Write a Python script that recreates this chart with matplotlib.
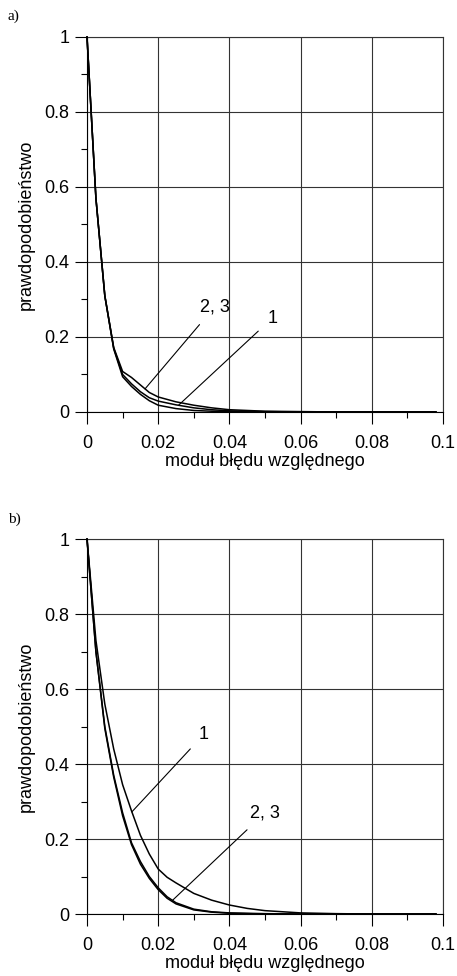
import numpy as np
import matplotlib
matplotlib.use("Agg")
import matplotlib.pyplot as plt
from matplotlib.ticker import MultipleLocator

plt.rcParams['font.family'] = ['Liberation Sans', 'DejaVu Sans']

# panel a) - three probability curves
xa = [0, 0.0025, 0.005, 0.0075, 0.01, 0.0125, 0.015, 0.0175, 0.02, 0.025,
      0.03, 0.035, 0.04, 0.05, 0.06, 0.07, 0.08, 0.09, 0.098]
a_curve1 = [1, 0.57, 0.31, 0.17, 0.100, 0.075, 0.054, 0.038, 0.029, 0.019,
            0.011, 0.006, 0.003, 0.001, 0, 0, 0, 0, 0]
a_curve2 = [1, 0.57, 0.31, 0.172, 0.108, 0.092, 0.072, 0.052, 0.040, 0.027,
            0.018, 0.011, 0.006, 0.002, 0.001, 0, 0, 0, 0]
a_curve3 = [1, 0.57, 0.31, 0.168, 0.094, 0.068, 0.047, 0.030, 0.018, 0.009,
            0.004, 0.002, 0.001, 0, 0, 0, 0, 0, 0]

# panel b)
xb = [0, 0.0025, 0.005, 0.0075, 0.01, 0.0125, 0.015, 0.0175, 0.02, 0.0225,
      0.025, 0.03, 0.035, 0.04, 0.045, 0.05, 0.06, 0.07, 0.08, 0.09, 0.098]
b_curve1 = [1, 0.73, 0.56, 0.44, 0.345, 0.275, 0.21, 0.16, 0.12, 0.098,
            0.083, 0.055, 0.037, 0.024, 0.015, 0.009, 0.003, 0.001, 0, 0, 0]
b_curve2 = [1, 0.70, 0.50, 0.37, 0.27, 0.19, 0.14, 0.10, 0.07, 0.046,
            0.030, 0.013, 0.006, 0.003, 0.002, 0.001, 0, 0, 0, 0, 0]
b_curve3 = [1, 0.70, 0.495, 0.365, 0.262, 0.185, 0.133, 0.095, 0.065, 0.042,
            0.027, 0.011, 0.005, 0.002, 0.001, 0, 0, 0, 0, 0, 0]

xticks = [0, 0.02, 0.04, 0.06, 0.08, 0.1]
xticklabels = ['0', '0.02', '0.04', '0.06', '0.08', '0.1']
yticks = [0, 0.2, 0.4, 0.6, 0.8, 1]
yticklabels = ['0', '0.2', '0.4', '0.6', '0.8', '1']

FS = 13


def setup_axes(ax):
    ax.set_xlim(0, 0.1)
    ax.set_ylim(0, 1)
    ax.set_xticks(xticks)
    ax.set_xticklabels(xticklabels)
    ax.set_yticks(yticks)
    ax.set_yticklabels(yticklabels)
    ax.xaxis.set_minor_locator(MultipleLocator(0.01))
    ax.yaxis.set_minor_locator(MultipleLocator(0.1))
    ax.tick_params(which='major', direction='out', length=8.6, width=0.8,
                   labelsize=FS, color='black')
    ax.tick_params(axis='x', which='major', pad=8)
    ax.tick_params(axis='y', which='major', pad=4)
    ax.tick_params(which='minor', direction='out', length=4.3, width=0.8)
    ax.grid(True, which='major', color='0.2', lw=0.8)
    for s in ax.spines.values():
        s.set_color('0.2')
        s.set_linewidth(0.8)
    ax.spines['left'].set_color('black')
    ax.spines['bottom'].set_color('black')
    ax.set_xlabel('moduł błędu względnego', fontsize=FS, labelpad=1)
    ax.set_ylabel('prawdopodobieństwo', fontsize=FS, labelpad=7)


def leader(ax, text, xs, ys, x_tip, x_txt, y_txt):
    y_tip = np.interp(x_tip, xs, ys)
    ax.annotate(text, xy=(x_tip, y_tip), xytext=(x_txt, y_txt),
                fontsize=FS, ha='center', va='center',
                arrowprops=dict(arrowstyle='-', lw=0.8, color='black',
                                shrinkA=6, shrinkB=0))


fig = plt.figure(figsize=(4.57, 9.76), dpi=100)
ax1 = fig.add_axes([0.1904, 0.5779, 0.779, 0.3842])
ax2 = fig.add_axes([0.1904, 0.0635, 0.779, 0.3842])

for ax, xs, curves in [(ax1, xa, [a_curve1, a_curve2, a_curve3]),
                       (ax2, xb, [b_curve1, b_curve2, b_curve3])]:
    setup_axes(ax)
    for c in curves:
        ax.plot(xs, c, color='black', lw=1.1, zorder=3, clip_on=False)

leader(ax1, '2, 3', xa, a_curve2, 0.0163, 0.0358, 0.28)
leader(ax1, '1', xa, a_curve1, 0.0257, 0.052, 0.25)
leader(ax2, '1', xb, b_curve1, 0.0126, 0.0328, 0.479)
leader(ax2, '2, 3', xb, b_curve2, 0.024, 0.050, 0.27)

fig.text(8 / 457, 1 - 16 / 976, 'a)', family='Liberation Serif', fontsize=11,
         ha='left', va='center')
fig.text(8 / 457, 1 - 519 / 976, 'b)', family='Liberation Serif', fontsize=11,
         ha='left', va='center')

fig.savefig('out.png', dpi=100)
